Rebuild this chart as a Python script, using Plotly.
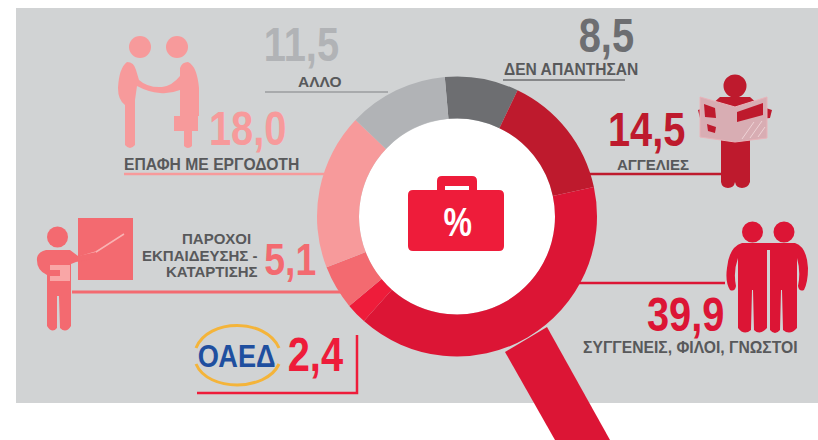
import re
import plotly.graph_objects as go

W, H = 818, 440

# ---- data ----
categories = ["ΔΕΝ ΑΠΑΝΤΗΣΑΝ", "ΑΓΓΕΛΙΕΣ", "ΣΥΓΓΕΝΕΙΣ, ΦΙΛΟΙ, ΓΝΩΣΤΟΙ", "ΟΑΕΔ",
              "ΠΑΡΟΧΟΙ<br>ΕΚΠΑΙΔΕΥΣΗΣ -<br>ΚΑΤΑΡΤΙΣΗΣ", "ΕΠΑΦΗ ΜΕ ΕΡΓΟΔΟΤΗ", "ΑΛΛΟ"]
values = [8.5, 14.5, 39.9, 2.4, 5.1, 18.0, 11.5]

# ---- styles and layout (pixels) ----
colors = ["#6d6e71", "#be1a2d", "#dc1535", "#ee1c3a", "#f36a70", "#f79a9b", "#b1b3b6"]
value_pos = [(606, 36), (646.5, 130), (685.5, 314), (315, 354.5), (290.5, 259), (247.5, 128), (301.5, 44.5)]
value_size = [48, 48, 48, 48, 45, 48, 48]
# one (x, y) per printed line of a label; the logo stands for the ΟΑΕΔ label
label_pos = [[(570.5, 69)], [(653, 164)], [(690, 347)], [], [(252, 238), (258, 255), (258, 271)],
             [(212, 164)], [(320, 81)]]
label_size = [15.6, 15, 15.7, 15, 15, 15.7, 15.5]
CX, CY, R, R_IN = 457, 216.5, 140, 98
ARIAL = "Liberation Sans, Arial, sans-serif"
TXT = "#58595b"


def fx(x):
    return x / W


def fy(y):
    return 1 - y / H


def path(s):
    out, is_x = [], True
    for tok in re.findall(r"[A-Za-z]|-?\d+\.?\d*", s):
        if tok.isalpha():
            out.append(tok)
            is_x = True
        else:
            out.append(f"{fx(float(tok)) if is_x else fy(float(tok)):.5f}")
            is_x = not is_x
    return " ".join(out)


shapes = []


def add_path(s, fill=None, line=None, lw=0, layer="above"):
    shapes.append(dict(type="path", xref="paper", yref="paper", path=path(s), layer=layer,
                       fillcolor=fill if fill else "rgba(0,0,0,0)",
                       line=dict(color=line if line else "rgba(0,0,0,0)", width=lw)))


def add_circle(cx, cy, r, fill, layer="above"):
    shapes.append(dict(type="circle", xref="paper", yref="paper", layer=layer, fillcolor=fill,
                       x0=fx(cx - r), x1=fx(cx + r), y0=fy(cy + r), y1=fy(cy - r),
                       line=dict(width=0)))


def add_rect(x0, y0, x1, y1, fill, layer="above"):
    shapes.append(dict(type="rect", xref="paper", yref="paper", layer=layer, fillcolor=fill,
                       x0=fx(x0), x1=fx(x1), y0=fy(y1), y1=fy(y0), line=dict(width=0)))


def add_stroke(s, color, lw, layer="below"):
    add_path(s, None, color, lw, layer)


# background panel, hole, magnifier handle
add_rect(16, 8, 818, 403, "#d1d3d4", "below")
add_circle(CX, CY, R_IN, "#ffffff", "below")
add_path("M 505 352 L 555 440 L 610 440 L 547 327 Z", "#dc1535", layer="below")

# leader lines
add_stroke("M 503 80 L 625 80", colors[0], 1.5)
add_stroke("M 588 174 L 722 174", colors[1], 2.5)
add_stroke("M 578 283 L 725 283", colors[2], 2.5)
add_stroke("M 197 393 L 357 393 L 357 335", colors[3], 2.5)
add_stroke("M 72 292 L 342 292", colors[4], 3)
add_stroke("M 124 174 L 326 174", colors[5], 2.5)
add_stroke("M 265 92 L 388 92", "#9a9c9f", 1.5)

# briefcase
RED = colors[3]
add_path("M 437 192 L 437 181 Q 437 176 442 176 L 472 176 Q 477 176 477 181 L 477 192 L 469 192 "
         "L 469 186 L 445 186 L 445 192 Z", RED)
add_path("M 413 190 L 499 190 Q 504 190 504 195 L 504 246 Q 504 251 499 251 L 413 251 "
         "Q 408 251 408 246 L 408 195 Q 408 190 413 190 Z", RED)

# handshake icon
PINK = colors[5]
add_circle(140, 47, 11, PINK)
add_circle(177, 47, 11, PINK)
add_path("M 127 62 Q 134 62 136 70 L 139 80 Q 148 88 162 87 Q 172 86 180 76 L 180 68 Q 182 62 188 62 "
         "Q 197 66 199 88 L 199 116 L 198 116 L 198 131 L 192 131 L 192 146 Q 188 150 184 146 L 184 131 "
         "L 174 131 L 174 116 L 180 116 L 180 90 Q 170 94 160 93 Q 148 92 137 86 L 135 100 L 135 145 "
         "Q 130 151 125 145 L 125 105 Q 118 100 118 88 Q 119 68 127 62 Z", PINK)

# reader icon
DR = colors[1]
add_circle(735, 86, 11.5, DR)
add_path("M 720 97 L 750 97 L 760 106 L 772 110 L 770 118 L 750 120 L 750 182 Q 748 188 742 188 "
         "Q 736 188 735 182 Q 734 188 728 188 Q 722 188 721 182 L 721 120 L 700 118 L 698 110 L 710 106 Z", DR)
add_path("M 700 97 L 735 107 L 767 97 L 767 138 L 735 142 L 700 137 Z", "#d8adb3", "#e8b4ba", 1)
add_path("M 704 104 L 715 108 L 716 118 L 705 117 Z", DR)
add_path("M 707 124 L 716 127 L 715 133 L 708 131 Z", DR)
add_path("M 737 112 L 763 103 L 763 115 L 737 122 Z", DR)
for hatch in ["M 742 139 L 754 122", "M 750 138 L 762 121", "M 758 137 L 765 127"]:
    add_stroke(hatch, "#eed3d6", 1, "above")

# two friends icon
add_circle(752.5, 232, 10.5, colors[2])
add_circle(784, 232, 10.5, colors[2])
add_path("M 742 243 L 795 243 Q 807 247 808 268 Q 808 282 804 290 Q 799 292 798 286 "
         "Q 801 272 797 258 L 797 328 Q 790 336 783 330 L 782 290 L 781 290 L 780 330 Q 775 336 770 330 "
         "L 770 250 L 767 250 L 767 328 Q 760 336 754 330 L 753 290 L 752 290 L 751 330 Q 744 336 738 328 "
         "L 738 258 Q 733 272 736 286 Q 735 292 730 290 Q 725 282 727 268 Q 729 247 742 243 Z", colors[2])

# presenter icon
COR = colors[4]
add_rect(78, 218, 133, 280, COR)
add_stroke("M 76 258 L 96 252 L 124 234", "#f9b3b3", 1.5, "above")
add_circle(57.5, 237, 10.5, COR)
add_path("M 46 250 L 70 250 L 78 256 L 96 252 L 97 258 L 76 262 L 71 264 L 71 326 Q 66 334 60 328 "
         "L 59 296 L 57 296 L 57 328 Q 52 334 47 326 L 47 275 Q 36 270 37 258 Q 38 252 46 250 Z", COR)
add_rect(50, 265, 70, 281, "#f9a6a6")
add_rect(50, 270, 60, 276, COR)

# ΟΑΕΔ logo
add_stroke("M 196 348 C 208 318 266 318 279 348", "#f4b43a", 3, "above")
add_stroke("M 196 364 C 208 392 266 392 279 364", "#f4b43a", 3, "above")

annotations = []
squeezed = []


def note(x, y, text, size, color, xanchor="center", scale=None):
    if scale:
        squeezed.append((len(annotations), scale))
    annotations.append(dict(x=fx(x), y=fy(y), xref="paper", yref="paper", text=f"<b>{text}</b>",
                            showarrow=False, xanchor=xanchor, yanchor="middle",
                            font=dict(family=ARIAL, size=size, color=color), borderpad=0))


for i, cat in enumerate(categories):
    note(*value_pos[i], f"{values[i]:.1f}".replace(".", ","), value_size[i], colors[i], scale=0.83)
    lines = cat.split("<br>")
    for line, pos in zip(lines, label_pos[i]):
        note(*pos, line, label_size[i], TXT, "right" if len(lines) > 1 else "center")

note(458, 222, "%", 40, "#ffffff", scale=0.8)
note(237, 356, categories[3], 32, "#1f4f9f", scale=0.85)

css = "".join(
    f'.annotation[data-index="{i}"] text{{transform-box:fill-box;transform-origin:center;'
    f'transform:scaleX({s});}}' for i, s in squeezed)

fig = go.Figure(go.Pie(
    labels=[c.replace("<br>", " ") for c in categories],
    values=values, sort=False, direction="clockwise", rotation=-5, hole=R_IN / R,
    marker=dict(colors=colors, line=dict(width=0)),
    textinfo="none", hoverinfo="label+value", showlegend=False,
    domain=dict(x=[fx(CX - R), fx(CX + R)], y=[fy(CY + R), fy(CY - R)]),
))
fig.update_layout(width=W, height=H, margin=dict(l=0, r=0, t=0, b=0), autosize=False,
                  paper_bgcolor="#ffffff", plot_bgcolor="#ffffff", showlegend=False,
                  shapes=shapes, annotations=annotations)
post = ("document.body.style.margin='0';document.body.style.overflow='hidden';"
        "var st=document.createElement('style');st.textContent=" + repr(css) + ";document.head.appendChild(st);")
fig.write_html("out.html", config=dict(displayModeBar=False), post_script=post)
